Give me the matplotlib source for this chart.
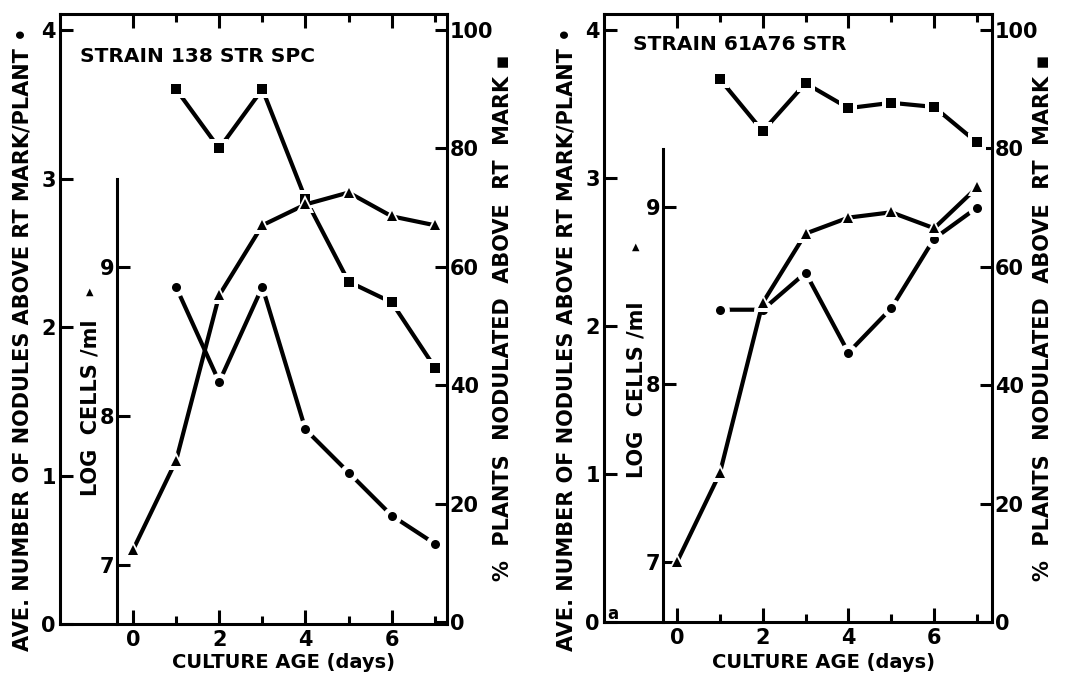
import matplotlib
matplotlib.use("Agg")
import matplotlib.pyplot as plt

plt.rcParams['font.family'] = ['DejaVu Sans']
plt.rcParams['font.weight'] = 'bold'

# ---------------- data ----------------
days_all = [0, 1, 2, 3, 4, 5, 6, 7]
days_17 = [1, 2, 3, 4, 5, 6, 7]

# Strain 138 STR SPC
L_pct = [90.0, 80.0, 90.0, 71.5, 57.5, 54.0, 43.0]          # squares, right axis
L_log = [7.10, 7.70, 8.81, 9.28, 9.42, 9.50, 9.34, 9.28]    # triangles, log cells
L_nod = [2.27, 1.63, 2.27, 1.31, 1.02, 0.73, 0.54]          # circles, nodules

# Strain 61A76 STR
R_pct = [91.7, 82.9, 91.0, 86.8, 87.7, 87.0, 81.0]
R_log = [7.00, 7.50, 8.46, 8.85, 8.94, 8.97, 8.88, 9.11]
R_nod = [2.11, 2.11, 2.36, 1.82, 2.12, 2.59, 2.80]

titles = ["STRAIN 138 STR SPC", "STRAIN 61A76 STR"]
xlabel = "CULTURE AGE (days)"
ylabel_nod = "AVE. NUMBER OF NODULES ABOVE RT MARK/PLANT \u2022"
ylabel_log = "LOG  CELLS /ml"
ylabel_pct = "%  PLANTS  NODULATED  ABOVE  RT  MARK \u25aa"
nod_ticks = [0, 1, 2, 3, 4]
pct_ticks = [0, 20, 40, 60, 80, 100]
log_ticks = [7, 8, 9]
x_major = [0, 2, 4, 6]
x_minor = [1, 3, 5, 7]

W, H = 1072, 675
fig = plt.figure(figsize=(W / 100, H / 100), dpi=100)


def fx(px):
    return px / W


def fy(py):
    return 1 - py / H


def panel(left, right, top, bottom, xlim, nod_lim, pct_lim, log_lim, log_spine_x,
          log_bounds, pct, logc, nod, title, title_xy, xlab_xy, lab_x, loglab, tri_xy):
    rect = [fx(left), fy(bottom), fx(right - left), (bottom - top) / H]
    ax = fig.add_axes(rect)
    ax.set_xlim(*xlim)
    ax.set_ylim(*nod_lim)
    for s in ax.spines.values():
        s.set_linewidth(2.2)
    ax.set_xticks(x_major)
    ax.set_xticks(x_minor, minor=True)
    ax.tick_params(axis='x', which='major', direction='in', length=10, width=2.2,
                   top=True, labelsize=15, pad=4)
    ax.tick_params(axis='x', which='minor', direction='in', length=6, width=2.2, top=True)
    ax.set_yticks(nod_ticks)
    ax.tick_params(axis='y', direction='in', length=9, width=2.2, labelsize=15, pad=3)

    axp = ax.twinx()
    axp.set_ylim(*pct_lim)
    axp.set_yticks(pct_ticks)
    axp.tick_params(axis='y', direction='in', length=9, width=2.2, labelsize=15, pad=2)
    for s in axp.spines.values():
        s.set_visible(False)

    axl = fig.add_axes(rect, sharex=ax)
    axl.patch.set_visible(False)
    axl.set_ylim(*log_lim)
    for k, s in axl.spines.items():
        s.set_visible(k == 'left')
    axl.spines['left'].set_position(('data', log_spine_x))
    axl.spines['left'].set_bounds(*log_bounds)
    axl.spines['left'].set_linewidth(2.2)
    axl.set_yticks(log_ticks)
    axl.tick_params(axis='y', direction='in', length=9, width=2.2, labelsize=15, pad=2)
    axl.tick_params(axis='x', which='both', bottom=False, top=False, labelbottom=False)

    def series(a, xs, ys, marker, ms):
        a.plot(xs, ys, color='black', lw=3.0, solid_capstyle='butt', zorder=3)
        a.plot(xs, ys, ls='none', marker=marker, ms=ms + 7, color='white',
               markeredgewidth=0, zorder=4)
        a.plot(xs, ys, ls='none', marker=marker, ms=ms, color='black',
               markeredgewidth=0, zorder=5)

    series(axp, days_17, pct, 's', 6.5)
    series(axl, days_all, logc, '^', 6.5)
    series(ax, days_17, nod, 'o', 6.5)

    fig.text(fx(title_xy[0]), fy(title_xy[1]), title, ha='left', va='center',
             fontsize=14.5, fontweight='bold')
    fig.text(fx(xlab_xy[0]), fy(xlab_xy[1]), xlabel, ha='center', va='center',
             fontsize=14, fontweight='bold')
    fig.text(fx(lab_x[0]), fy(339), ylabel_nod, rotation=90, ha='center', va='center',
             fontsize=15, fontweight='bold')
    fig.text(fx(lab_x[1]), fy(loglab), ylabel_log, rotation=90, ha='center',
             va='center', fontsize=15, fontweight='bold')
    fig.text(fx(lab_x[2]), fy(318), ylabel_pct, rotation=90, ha='center', va='center',
             fontsize=15, fontweight='bold')
    fig.text(fx(tri_xy[0]), fy(tri_xy[1]), "\u25b2", ha='center', va='center',
             fontsize=7)
    return ax


panel(60, 447, 14, 624, (-1.69, 7.28), (0, 4.108), (-0.3, 102.7), (6.604, 10.698),
      -0.37, (6.604, 9.59), L_pct, L_log, L_nod, titles[0], (80, 57), (283, 662),
      (23, 90, 503), 408, (90, 292))

panel(604, 992, 14, 622, (-1.703, 7.35), (0, 4.108), (0, 102.7), (6.662, 10.087),
      -0.33, (6.662, 9.327), R_pct, R_log, R_nod, titles[1], (633, 45), (824, 663),
      (567, 636, 1043), 390, (636, 247))

fig.text(fx(613), fy(614), "a", ha='center', va='center', fontsize=12, fontweight='bold')

fig.savefig("out.png", dpi=100)
